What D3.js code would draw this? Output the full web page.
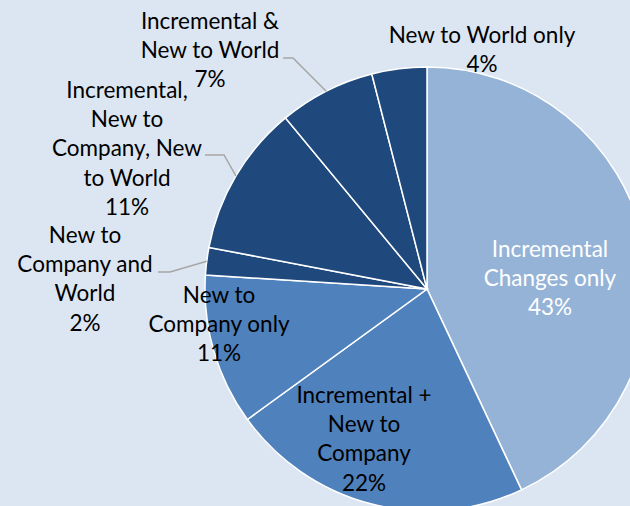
<!DOCTYPE html>
<html>
<head>
<meta charset="utf-8">
<script src="https://cdn.jsdelivr.net/npm/d3@7"></script>
<style>
  html, body { margin: 0; padding: 0; background: #DCE6F2; }
  svg { display: block; }
</style>
</head>
<body>
<script>
// kategorier, medurs från klockan 12
var categories = [
  "Incremental Changes only",
  "Incremental + New to Company",
  "New to Company only",
  "New to Company and World",
  "Incremental, New to Company, New to World",
  "Incremental & New to World",
  "New to World only"
];
var values = [43, 22, 11, 2, 11, 7, 4];
// etikettrader som i originalet
var labelLines = [
  ["Incremental", "Changes only", "43%"],
  ["Incremental +", "New to", "Company", "22%"],
  ["New to", "Company only", "11%"],
  ["New to", "Company and", "World", "2%"],
  ["Incremental,", "New to", "Company, New", "to World", "11%"],
  ["Incremental &", "New to World", "7%"],
  ["New to World only", "4%"]
];

var width = 630, height = 506;
var cx = 427, cy = 289, radius = 222;
var lineH = 29.2;

// placering av etiketter (x, första baslinjen), och ev. knäpunkt för hänvisningslinje
var labelPos = [
  {x: 550, y: 257, color: "#fff"},
  {x: 364, y: 403},
  {x: 219, y: 303},
  {x: 85, y: 243, elbow: [170, 272], end: 158},
  {x: 127, y: 98, elbow: [224, 155], end: 205},
  {x: 210, y: 29, elbow: [293, 58], end: 283},
  {x: 482, y: 43}
];
var colors = ["#95B3D7", "#4F81BD", "#4F81BD", "#1F497D", "#1F497D", "#1F497D", "#1F497D"];

var svg = d3.select("body").append("svg")
    .attr("width", width)
    .attr("height", height);

var pie = d3.pie().sort(null).value(function(d) { return d; });
var arcs = pie(values);
var arc = d3.arc().innerRadius(0).outerRadius(radius);

var g = svg.append("g").attr("transform", "translate(" + cx + "," + cy + ")");

g.selectAll("path")
  .data(arcs)
  .enter()
    .append("path")
    .attr("d", arc)
    .attr("fill", function(d, i) { return colors[i]; })
    .attr("stroke", "#fff")
    .attr("stroke-width", 1.5);

// hänvisningslinjer
arcs.forEach(function(d, i) {
  var p = labelPos[i];
  if (!p.elbow) return;
  var a = (d.startAngle + d.endAngle) / 2;
  var ex = cx + radius * Math.sin(a), ey = cy - radius * Math.cos(a);
  svg.append("polyline")
    .attr("points", [[ex, ey], p.elbow, [p.end, p.elbow[1]]].map(function(q) { return q.join(","); }).join(" "))
    .attr("fill", "none")
    .attr("stroke", "#A6A6A6")
    .attr("stroke-width", 1.5);
});

// etiketter
labelLines.forEach(function(lines, i) {
  var p = labelPos[i];
  var t = svg.append("text")
    .attr("text-anchor", "middle")
    .attr("font-family", "Lato, 'Open Sans', sans-serif")
    .attr("font-size", 22.5)
    .attr("fill", p.color || "#000");
  lines.forEach(function(s, j) {
    t.append("tspan").attr("x", p.x).attr("y", p.y + j * lineH).text(s);
  });
});
</script>
</body>
</html>
